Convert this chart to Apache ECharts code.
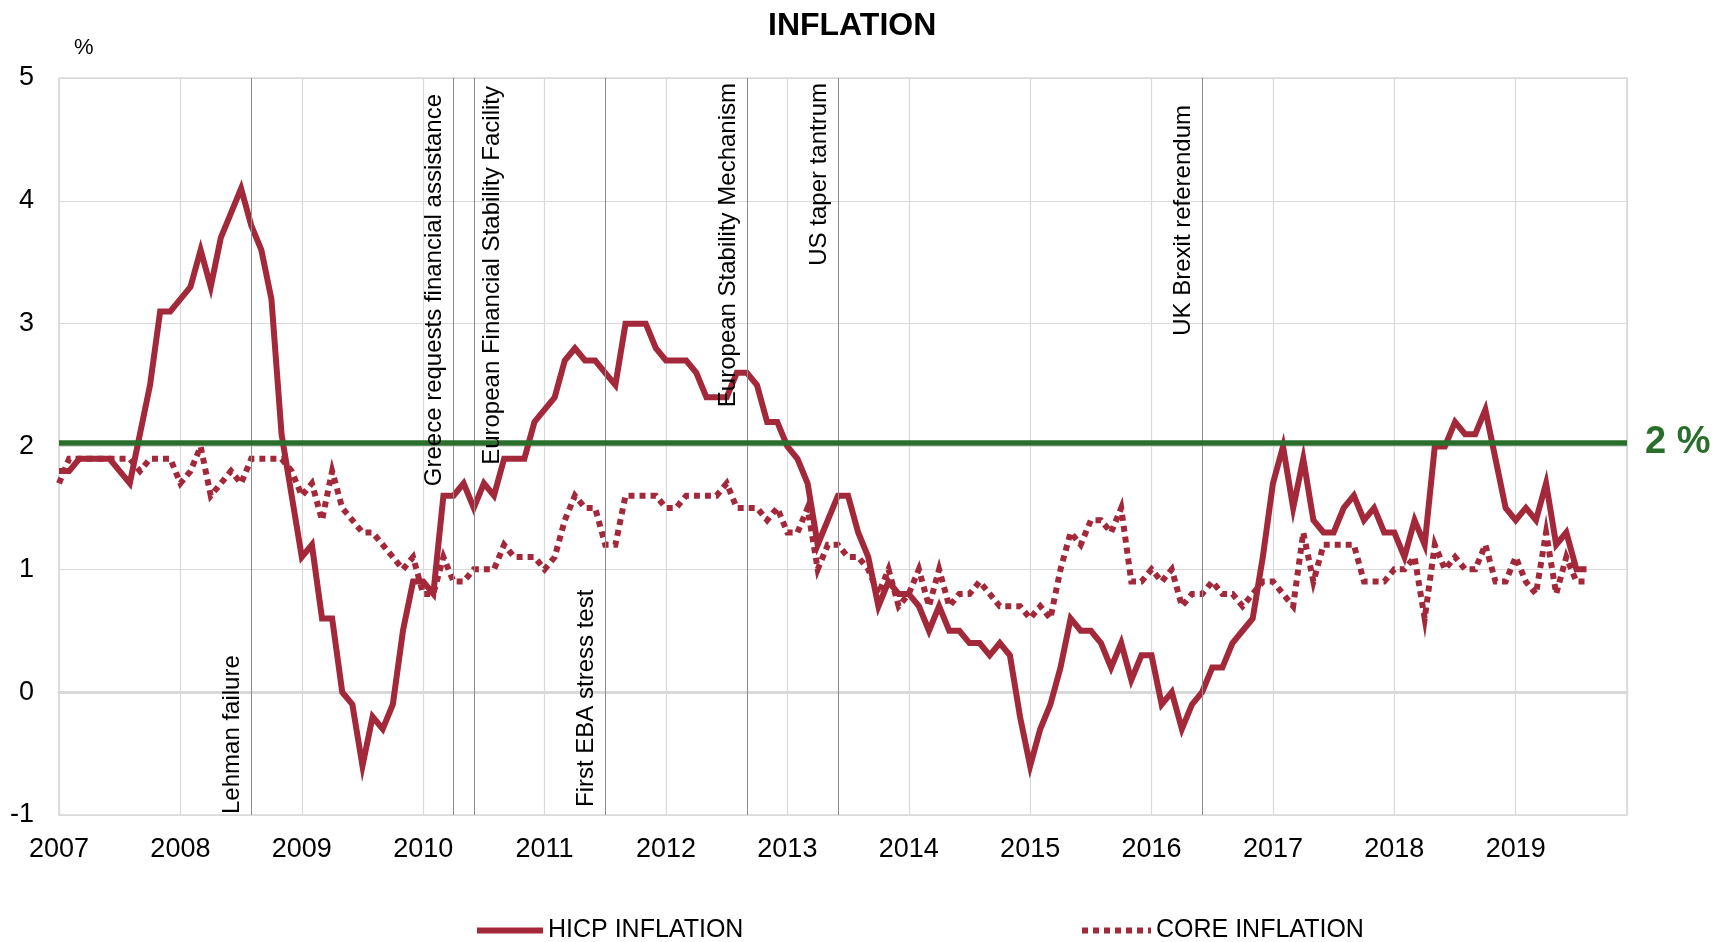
<!DOCTYPE html>
<html>
<head>
<meta charset="utf-8">
<script src="https://cdn.jsdelivr.net/npm/echarts@6/dist/echarts.min.js"></script>
<style>html,body{margin:0;padding:0;background:#fff}#chart{width:1727px;height:942px}</style>
</head>
<body>
<div id="chart"></div>
<script>
// ---- data ----
const yearLabels = ['2007','2008','2009','2010','2011','2012','2013','2014','2015','2016','2017','2018','2019'];
const yTicks = [-1, 0, 1, 2, 3, 4, 5];
const lastMonthIndex = 155; // Dec 2019, axis end
const hicp = [
  1.8, 1.8, 1.9, 1.9, 1.9, 1.9, 1.8, 1.7, 2.1, 2.5, 3.1, 3.1,
  3.2, 3.3, 3.6, 3.3, 3.7, 3.9, 4.1, 3.8, 3.6, 3.2, 2.1, 1.6,
  1.1, 1.2, 0.6, 0.6, 0.0, -0.1, -0.6, -0.2, -0.3, -0.1, 0.5, 0.9,
  0.9, 0.8, 1.6, 1.6, 1.7, 1.5, 1.7, 1.6, 1.9, 1.9, 1.9, 2.2,
  2.3, 2.4, 2.7, 2.8, 2.7, 2.7, 2.6, 2.5, 3.0, 3.0, 3.0, 2.8,
  2.7, 2.7, 2.7, 2.6, 2.4, 2.4, 2.4, 2.6, 2.6, 2.5, 2.2, 2.2,
  2.0, 1.9, 1.7, 1.2, 1.4, 1.6, 1.6, 1.3, 1.1, 0.7, 0.9, 0.8,
  0.8, 0.7, 0.5, 0.7, 0.5, 0.5, 0.4, 0.4, 0.3, 0.4, 0.3, -0.2,
  -0.6, -0.3, -0.1, 0.2, 0.6, 0.5, 0.5, 0.4, 0.2, 0.4, 0.1, 0.3,
  0.3, -0.1, 0.0, -0.3, -0.1, 0.0, 0.2, 0.2, 0.4, 0.5, 0.6, 1.1,
  1.7, 2.0, 1.5, 1.9, 1.4, 1.3, 1.3, 1.5, 1.6, 1.4, 1.5, 1.3,
  1.3, 1.1, 1.4, 1.2, 2.0, 2.0, 2.2, 2.1, 2.1, 2.3, 1.9, 1.5,
  1.4, 1.5, 1.4, 1.7, 1.2, 1.3, 1.0, 1.0
];
const core = [
  1.7, 1.9, 1.9, 1.9, 1.9, 1.9, 1.9, 1.9, 1.8, 1.9, 1.9, 1.9,
  1.7, 1.8, 2.0, 1.6, 1.7, 1.8, 1.7, 1.9, 1.9, 1.9, 1.9, 1.8,
  1.6, 1.7, 1.4, 1.8, 1.5, 1.4, 1.3, 1.3, 1.2, 1.1, 1.0, 1.1,
  0.8, 0.8, 1.1, 0.9, 0.9, 1.0, 1.0, 1.0, 1.2, 1.1, 1.1, 1.1,
  1.0, 1.1, 1.4, 1.6, 1.5, 1.5, 1.2, 1.2, 1.6, 1.6, 1.6, 1.6,
  1.5, 1.5, 1.6, 1.6, 1.6, 1.6, 1.7, 1.5, 1.5, 1.5, 1.4, 1.5,
  1.3, 1.3, 1.5, 1.0, 1.2, 1.2, 1.1, 1.1, 1.0, 0.8, 1.0, 0.7,
  0.8, 1.0, 0.7, 1.0, 0.7, 0.8, 0.8, 0.9, 0.8, 0.7, 0.7, 0.7,
  0.6, 0.7, 0.6, 1.0, 1.3, 1.2, 1.4, 1.4, 1.3, 1.5, 0.9, 0.9,
  1.0, 0.9, 1.0, 0.7, 0.8, 0.8, 0.9, 0.8, 0.8, 0.7, 0.8, 0.9,
  0.9, 0.8, 0.7, 1.3, 0.9, 1.2, 1.2, 1.2, 1.2, 0.9, 0.9, 0.9,
  1.0, 1.0, 1.1, 0.6, 1.2, 1.0, 1.1, 1.0, 1.0, 1.2, 0.9, 0.9,
  1.1, 0.9, 0.8, 1.3, 0.8, 1.1, 0.9, 0.9
];
const targetValue = 2;
const targetLabel = '2 %';
const eventMonths = [19, 39, 41, 54, 68, 77, 113];
const eventLabels = [
  'Lehman failure',
  'Greece requests financial assistance',
  'European Financial Stability Facility',
  'First EBA stress test',
  'European Stability Mechanism',
  'US taper tantrum',
  'UK Brexit referendum'
];

// ---- styles / layout ----
const FONT = "'Liberation Sans', Arial, Helvetica, sans-serif";
const RED = '#a3283a';
const GREEN = '#2a6e2c';
const GRID = '#d9d9d9';
const DOTS = [6, 5];
// per-event label placement: side of the line, anchored at top or bottom, inset px
const eventLabelLayout = [
  {side: -1, anchor: 'bottom', inset: 1},
  {side: -1, anchor: 'top', inset: 16},
  {side: 1, anchor: 'top', inset: 8},
  {side: -1, anchor: 'bottom', inset: 8},
  {side: -1, anchor: 'top', inset: 5},
  {side: -1, anchor: 'top', inset: 5},
  {side: -1, anchor: 'top', inset: 27}
];

const toPairs = arr => arr.map((v, i) => [i, v]);

const chart = echarts.init(document.getElementById('chart'), null, {renderer: 'canvas'});

const legendText = {fontFamily: FONT, fontSize: 25, color: '#000'};
const option = {
  animation: false,
  backgroundColor: '#fff',
  title: [
    {text: 'INFLATION', left: 763, top: 5,
     textStyle: {fontFamily: FONT, fontSize: 32, fontWeight: 'bold', color: '#000'}},
    {text: '%', left: 69, top: 32,
     textStyle: {fontFamily: FONT, fontSize: 22, fontWeight: 'normal', color: '#000'}}
  ],
  grid: {left: 59, right: 100, top: 78, bottom: 127, show: true, borderColor: GRID, borderWidth: 1.5},
  legend: [
    {data: ['HICP INFLATION'], left: 474, top: 918, padding: 0, itemWidth: 66, itemHeight: 14,
     itemStyle: {opacity: 0},
     lineStyle: {width: 6, type: 'solid', color: RED},
     textStyle: legendText},
    {data: ['CORE INFLATION'], left: 1079, top: 918, padding: 0, itemWidth: 69, itemHeight: 14,
     itemStyle: {opacity: 0},
     lineStyle: {width: 6, type: DOTS, color: RED},
     textStyle: legendText}
  ],
  xAxis: {
    type: 'value', min: 0, max: lastMonthIndex, interval: 12,
    axisLine: {show: true, lineStyle: {color: GRID, width: 3}},
    axisTick: {show: false},
    splitLine: {show: true, lineStyle: {color: GRID, width: 1.2}},
    axisLabel: {
      fontFamily: FONT, fontSize: 27, color: '#000', margin: 21,
      showMaxLabel: false,
      formatter: v => (v % 12 === 0 && yearLabels[v / 12]) ? yearLabels[v / 12] : ''
    }
  },
  yAxis: {
    type: 'value', min: yTicks[0], max: yTicks[yTicks.length - 1], interval: 1,
    axisLine: {show: false}, axisTick: {show: false},
    splitLine: {show: true, lineStyle: {color: GRID, width: 1.2}},
    axisLabel: {fontFamily: FONT, fontSize: 27, color: '#000', margin: 25}
  },
  series: [
    {
      name: 'HICP INFLATION', type: 'line', data: toPairs(hicp),
      symbol: 'none', z: 3,
      lineStyle: {color: RED, width: 6, join: 'miter'},
      itemStyle: {color: RED},
      markLine: {
        silent: true, symbol: ['none', 'none'], animation: false,
        data: eventMonths.map(m => ({
          xAxis: m,
          lineStyle: {color: '#8c8c8c', width: 1, type: 'solid'},
          label: {show: false}
        }))
      }
    },
    {
      name: 'CORE INFLATION', type: 'line', data: toPairs(core),
      symbol: 'none', z: 2,
      lineStyle: {color: RED, width: 6, type: DOTS, join: 'miter'},
      itemStyle: {color: RED}
    },
    {
      name: 'target', type: 'line', data: [], z: 4,
      markLine: {
        silent: true, symbol: ['none', 'none'], animation: false,
        data: [[
          {coord: [0, targetValue + 0.03],
           lineStyle: {color: GREEN, width: 5.5, type: 'solid'},
           label: {show: true, position: 'end', formatter: targetLabel, distance: 18,
                   color: GREEN, fontFamily: FONT, fontSize: 38, fontWeight: 'bold'}},
          {coord: [lastMonthIndex, targetValue + 0.03]}
        ]]
      }
    }
  ]
};
chart.setOption(option);

// event labels positioned through the chart's own scales
const yTopPx = chart.convertToPixel({yAxisIndex: 0}, yTicks[yTicks.length - 1]);
const yBotPx = chart.convertToPixel({yAxisIndex: 0}, yTicks[0]);
const graphics = eventMonths.map((m, i) => {
  const lay = eventLabelLayout[i];
  const xPx = chart.convertToPixel({xAxisIndex: 0}, m);
  const fromBottom = lay.anchor === 'bottom';
  return {
    type: 'text',
    x: xPx + lay.side * 19,
    y: fromBottom ? yBotPx - lay.inset : yTopPx + lay.inset,
    rotation: Math.PI / 2,
    silent: true,
    z: 10,
    style: {
      text: eventLabels[i],
      font: '24px ' + FONT,
      fill: '#000',
      textAlign: fromBottom ? 'left' : 'right',
      align: fromBottom ? 'left' : 'right',
      textVerticalAlign: 'middle',
      verticalAlign: 'middle'
    }
  };
});
chart.setOption({graphic: graphics});
</script>
</body>
</html>
